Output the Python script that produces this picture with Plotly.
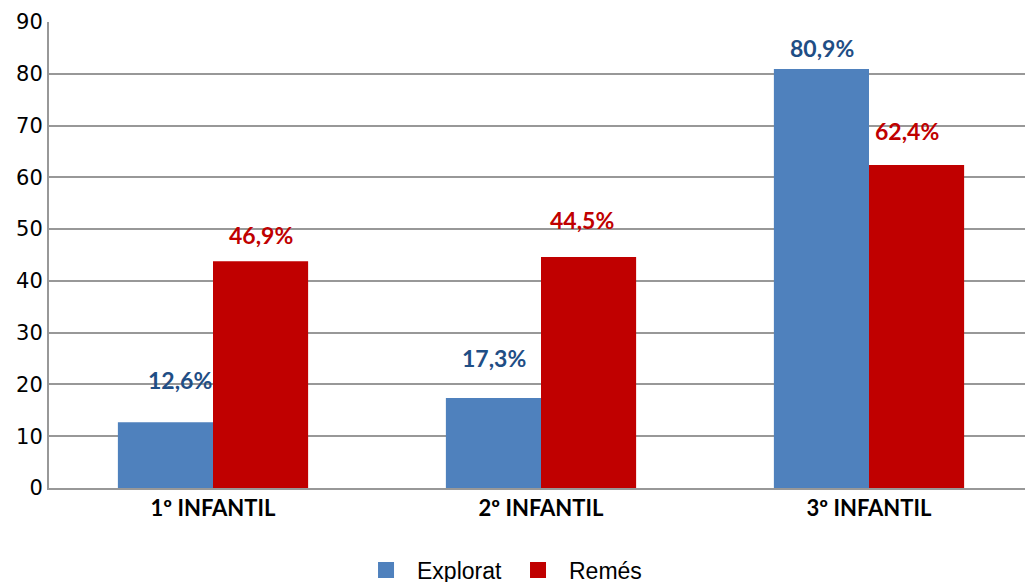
import plotly.graph_objects as go

categories = ["1º INFANTIL", "2º INFANTIL", "3º INFANTIL"]
explorat = [12.7, 17.4, 80.9]
remes = [43.8, 44.6, 62.4]
explorat_labels = ["12,6%", "17,3%", "80,9%"]
remes_labels = ["46,9%", "44,5%", "62,4%"]

BLUE = "#4F81BD"
RED = "#C00000"
LBLUE = "#1F4E85"
GRID = "#989898"

# label pixel offsets (style): (xshift relative to bar centre, yshift above bar top)
exp_off = [(14, 42), (0, 40), (0, 21)]
rem_off = [(0, 26), (-7, 37), (-10, 34)]
BAR_HALF = 47.5

fig = go.Figure()
fig.add_bar(name="Explorat", x=categories, y=explorat, marker_color=BLUE,
            marker_line_width=0, showlegend=False)
fig.add_bar(name="Remés", x=categories, y=remes, marker_color=RED,
            marker_line_width=0, showlegend=False)
# legend entries with larger square symbols
fig.add_scatter(name="Explorat", x=[None], y=[None], mode="markers",
                marker=dict(symbol="square", size=16, color=BLUE))
fig.add_scatter(name="Remés", x=[None], y=[None], mode="markers",
                marker=dict(symbol="square", size=16, color=RED))

ann = []
for i, c in enumerate(categories):
    ann.append(dict(x=c, y=explorat[i], xref="x", yref="y", text=explorat_labels[i],
                    showarrow=False, xshift=-BAR_HALF + exp_off[i][0], yshift=exp_off[i][1],
                    font=dict(family="Lato", size=23, color=LBLUE, weight="bold")))
    ann.append(dict(x=c, y=remes[i], xref="x", yref="y", text=remes_labels[i],
                    showarrow=False, xshift=BAR_HALF + rem_off[i][0], yshift=rem_off[i][1],
                    font=dict(family="Lato", size=23, color=RED, weight="bold")))

# page body has an 8px margin, so the figure is offset by 8px
fig.update_layout(
    width=1033, height=582,
    margin=dict(l=41, r=8, t=14, b=102, autoexpand=False),
    paper_bgcolor="white", plot_bgcolor="white",
    barmode="group", bargap=0.42, bargroupgap=0,
    annotations=ann,
    showlegend=True,
    legend=dict(orientation="h", x=0.311, xanchor="left", y=-0.176, yanchor="middle",
                font=dict(family="Liberation Sans", size=23, color="#000"),
                itemwidth=52, tracegroupgap=0),
    xaxis=dict(showgrid=False, showline=True, linecolor=GRID, linewidth=2,
               automargin=False, ticks="",
               tickfont=dict(family="Lato", size=22, color="#000", weight="bold")),
    yaxis=dict(range=[0, 90], dtick=10, showgrid=True, gridcolor=GRID, gridwidth=2,
               showline=True, linecolor=GRID, linewidth=2, zeroline=False,
               automargin=False, ticks="", ticklen=0,
               tickfont=dict(family="DejaVu Sans", size=21, color="#000")),
)

fig.write_html("out.html")
